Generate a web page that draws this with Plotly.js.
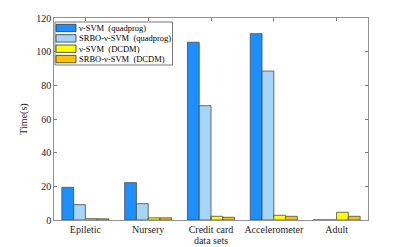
<!DOCTYPE html>
<html><head><meta charset="utf-8">
<script src="https://cdn.plot.ly/plotly-3.0.1.min.js"></script>
<style>html,body{margin:0;padding:0;background:#fff}#c{width:407px;height:247px}</style>
</head><body><div id="c"></div>
<script>
const categories = ["Epiletic", "Nursery", "Credit card", "Accelerometer", "Adult"];
const seriesNames = ["\u03bd-SVM  (quadprog)", "SRBO-\u03bd-SVM  (quadprog)", "\u03bd-SVM  (DCDM)", "SRBO-\u03bd-SVM  (DCDM)"];
const nuSvmQuadprog = [19.4, 22.2, 105.6, 110.7, 0];
const srboQuadprog = [9.1, 9.7, 67.9, 88.5, 0];
const nuSvmDcdm = [0.8, 1.3, 2.2, 2.8, 4.6];
const srboDcdm = [0.7, 1.3, 1.6, 2.2, 2.2];
const colors = ["#1E8FFF", "#A6D6F7", "#FFFF00", "#FFC200"];
const values = [nuSvmQuadprog, srboQuadprog, nuSvmDcdm, srboDcdm];
const font = "Liberation Serif";
const traces = values.map((v, i) => ({
  type: "bar", x: categories, y: v, name: seriesNames[i], showlegend: false,
  marker: {color: colors[i], line: {color: "#4a4a4a", width: 0.8}}
}));
// custom legend (plot-area paper coords), plot area 314x202 px
const PW = 314, PH = 202;
const px = x => x / PW, py = y => 1 - y / PH;
const shapes = [{type: "rect", xref: "paper", yref: "paper", x0: px(1), x1: px(118.5), y0: py(4), y1: py(47),
  fillcolor: "#fff", line: {color: "#555", width: 0.8}, layer: "above"}];
const annotations = [];
seriesNames.forEach((n, i) => {
  const top = 6.3 + i * 10.35;
  shapes.push({type: "rect", xref: "paper", yref: "paper", x0: px(2), x1: px(22), y0: py(top), y1: py(top + 7.4),
    fillcolor: colors[i], line: {color: "#333", width: 0.8}, layer: "above"});
  annotations.push({xref: "paper", yref: "paper", x: px(22.5), y: py(top + 3.7), xanchor: "left", yanchor: "middle",
    text: n, showarrow: false, font: {family: font, size: 8.5, color: "#000"}});
});
const layout = {
  width: 407, height: 247,
  margin: {l: 54, r: 39, t: 18, b: 27},
  paper_bgcolor: "#fff", plot_bgcolor: "#fff",
  barmode: "group", bargap: 0.25, bargroupgap: 0,
  font: {family: font, size: 10, color: "#262626"},
  showlegend: false, shapes, annotations,
  xaxis: {range: [-0.5, 4.5], showline: true, mirror: "ticks", linecolor: "#777", linewidth: 0.8,
    ticks: "inside", ticklen: 3, tickcolor: "#777", tickfont: {family: font, size: 10, color: "#262626"},
    title: {text: "data sets", font: {family: font, size: 10, color: "#262626"}, standoff: 2}},
  yaxis: {range: [0, 120], dtick: 20, showline: true, mirror: "ticks", linecolor: "#777", linewidth: 0.8,
    ticks: "inside", ticklen: 3, tickcolor: "#777", showgrid: false, zeroline: false,
    tickfont: {family: font, size: 10, color: "#262626"},
    title: {text: "Time(s)", font: {family: font, size: 10, color: "#262626"}, standoff: 6}}
};
Plotly.newPlot("c", traces, layout, {displayModeBar: false, staticPlot: true});
</script></body></html>
